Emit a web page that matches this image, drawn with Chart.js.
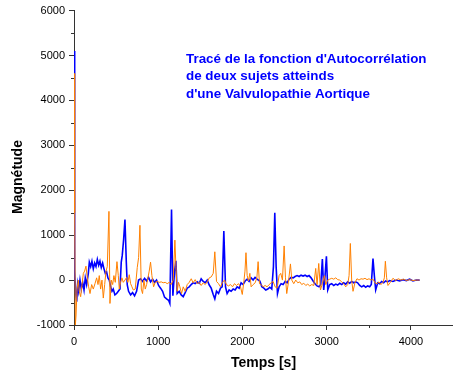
<!DOCTYPE html>
<html>
<head>
<meta charset="utf-8">
<script src="https://cdn.jsdelivr.net/npm/chart.js@4.4.1/dist/chart.umd.min.js"></script>
<style>
  html, body { margin: 0; padding: 0; background: #fff; }
  #wrap { width: 453px; height: 378px; }
</style>
</head>
<body>
<div id="wrap"><canvas id="acfChart" width="453" height="378"></canvas></div>
<script>
const titleLines = [
  "Tracé de la fonction d'Autocorrélation",
  "de deux sujets atteinds",
  "d'une Valvulopathie Aortique"
];

const xTicks = [0, 1000, 2000, 3000, 4000];
const yTicks = [-1000, 0, 1000, 2000, 3000, 4000, 5000, 6000];

// sujet 1 (bleu)
const blueTime = [
  0, 8, 20, 32, 43, 55, 71, 87, 103, 119, 134, 150, 170, 182, 198, 213, 229, 245, 261, 277,
  293, 308, 324, 340, 356, 372, 387, 403, 419, 435, 451, 466, 486, 506, 526, 546, 561, 573, 589, 605,
  621, 632, 648, 672, 696, 719, 743, 767, 791, 814, 838, 862, 885, 909, 933, 957, 980, 1004, 1028, 1052,
  1075, 1099, 1123, 1138, 1158, 1174, 1194, 1210, 1225, 1249, 1273, 1297, 1320, 1344, 1368, 1392, 1415, 1439, 1463, 1487,
  1510, 1534, 1558, 1582, 1606, 1629, 1653, 1672, 1692, 1716, 1739, 1759, 1779, 1799, 1818, 1842, 1866, 1890, 1913, 1937,
  1961, 1984, 2008, 2032, 2056, 2079, 2103, 2127, 2150, 2174, 2206, 2230, 2254, 2277, 2301, 2325, 2348, 2368, 2384, 2400,
  2416, 2435, 2459, 2483, 2507, 2530, 2554, 2578, 2602, 2625, 2649, 2673, 2696, 2720, 2744, 2768, 2791, 2815, 2839, 2862,
  2886, 2910, 2930, 2949, 2965, 2981, 2997, 3013, 3036, 3060, 3084, 3108, 3131, 3155, 3179, 3202, 3226, 3250, 3273, 3297,
  3321, 3345, 3368, 3392, 3416, 3440, 3463, 3487, 3511, 3530, 3550, 3566, 3582, 3606, 3629, 3653, 3677, 3700, 3724, 3748,
  3787, 3827, 3866, 3906, 3946, 3985, 4025, 4064, 4104
];
const blueValues = [
  5100, 200, -300, -480, -100, -250, 0, -200, -50, -220, 50, -100, 150, 400, 300, 420, 250, 380, 300, 460,
  330, 420, 280, 380, 250, 150, 180, 50, 0, -150, -250, -200, -330, -300, -250, -200, 400, 550, 900, 1350,
  400, -100, -250, -330, -280, -350, -250, 0, 30, -30, 40, -20, 60, -40, 20, -50, 0, -120, -180, -250,
  -380, -420, -450, -520, 1570, -350, 200, 430, -300, -250, -330, -370, -280, -180, -150, -100, -60, -80, -40, -70,
  30, -30, -60, 0, -110, -180, -320, -420, -250, -300, -180, -150, 1090, -150, -300, -220, -250, -200, -220, -150,
  -180, -60, -100, -20, 20, -30, 50, 0, 60, 20, -20, -150, -180, -220, -200, -160, -200, 300, 1500, 300,
  -300, -150, -80, -100, -30, -60, 20, 60, 50, 80, 100, 80, 110, 90, 110, 80, 100, 50, -20, -80,
  -130, -150, -100, 470, -220, 100, 530, -220, -100, -80, -120, -90, -110, -70, -100, -60, -90, -40, -70, -30,
  -60, -40, -60, -120, -150, -120, -160, -130, -150, -100, 480, 100, -220, -60, -80, -30, -60, -20, -40, -10,
  -30, 0, -20, 10, -10, 20, -20, 0, 0
];

// sujet 2 (orange)
const orangeTime = [
  0, 8, 16, 24, 36, 51, 63, 79, 95, 111, 126, 142, 158, 174, 190, 210, 229, 249, 269, 285,
  300, 316, 332, 348, 364, 380, 395, 415, 427, 443, 459, 474, 490, 510, 526, 538, 553, 569, 585, 605,
  625, 640, 656, 672, 688, 704, 727, 751, 767, 783, 799, 814, 830, 846, 862, 878, 893, 909, 925, 945,
  965, 988, 1012, 1036, 1059, 1083, 1107, 1131, 1154, 1178, 1198, 1210, 1225, 1241, 1257, 1277, 1297, 1320, 1344, 1368,
  1392, 1415, 1439, 1463, 1487, 1510, 1534, 1558, 1582, 1606, 1629, 1653, 1672, 1692, 1716, 1739, 1763, 1787, 1810, 1834,
  1858, 1882, 1905, 1929, 1953, 1977, 1998, 2016, 2030, 2042, 2056, 2072, 2088, 2103, 2127, 2151, 2171, 2186, 2202, 2222,
  2246, 2269, 2293, 2317, 2341, 2364, 2388, 2412, 2435, 2455, 2475, 2495, 2511, 2526, 2546, 2570, 2586, 2609, 2633, 2657,
  2681, 2704, 2728, 2752, 2775, 2799, 2823, 2847, 2870, 2886, 2906, 2926, 2949, 2973, 2989, 3013, 3036, 3060, 3084, 3108,
  3131, 3155, 3179, 3202, 3226, 3250, 3266, 3281, 3297, 3313, 3337, 3360, 3384, 3408, 3432, 3455, 3479, 3503, 3527, 3550,
  3574, 3598, 3621, 3645, 3669, 3685, 3697, 3712, 3728, 3756, 3787, 3819, 3851, 3882, 3914, 3946, 3985, 4025, 4064, 4104
];
const orangeValues = [
  4600, 1500, -1000, -800, -200, 0, -250, -370, -100, 150, 200, 310, 50, -150, -300, -100, -200, -80, 50, -100,
  100, -200, 0, -400, -100, 200, 300, 1530, -520, 0, -100, 100, -50, 410, 100, -200, -50, 50, -50, 0,
  60, -50, 120, -80, -150, -220, -200, 280, 500, 1220, -200, -300, 0, -200, -100, 50, 200, 400, 100, -150,
  -50, -30, -50, -40, -60, -50, -80, -50, -100, 0, 890, 300, -250, -50, -150, -300, -150, -250, -100, -50,
  30, -60, 10, -80, -50, -120, -60, -100, -40, 50, 70, 150, 630, -30, -80, -150, -50, 0, -100, -130,
  -100, -150, -80, -120, -80, -150, -320, -50, 200, 610, 100, -20, 150, -150, -100, -60, 50, 410, -80, -100,
  -150, -120, -150, -100, -60, -30, -150, -180, 100, 150, 0, 760, 50, -300, -50, 360, 0, -80, 0, -60,
  -40, -100, -70, -120, -90, -130, -100, -120, 260, -100, 370, -220, -80, 100, -100, 0, 20, 40, 20, 50,
  10, 0, -40, -80, -150, -100, 100, 815, 0, -250, -50, 30, 0, 30, 20, 40, 10, 30, 0, 20,
  -60, -80, -40, -100, -50, 50, 420, 50, -120, -50, 40, -10, 30, 0, 20, -10, 10, -10, 0, 0
];

const toPoints = (xs, ys) => xs.map((x, i) => ({ x: x, y: ys[i] }));

const FONT = "'Liberation Sans', Arial, sans-serif";

const decorPlugin = {
  id: "decor",
  afterDraw(chart) {
    const { ctx, scales } = chart;
    const x = scales.x;
    const y = scales.y;
    ctx.save();
    ctx.strokeStyle = "#333";
    ctx.lineWidth = 1;
    // minor ticks
    ctx.beginPath();
    for (let v = 500; v <= 4500; v += 1000) {
      const px = Math.round(x.getPixelForValue(v)) + 0.5;
      ctx.moveTo(px, y.bottom);
      ctx.lineTo(px, y.bottom + 3);
    }
    for (let v = -500; v <= 5500; v += 1000) {
      const py = Math.round(y.getPixelForValue(v)) + 0.5;
      ctx.moveTo(x.left, py);
      ctx.lineTo(x.left - 3, py);
    }
    ctx.stroke();

    // titre
    ctx.fillStyle = "#0000ff";
    ctx.font = "bold 13.4px " + FONT;
    ctx.textBaseline = "middle";
    ctx.textAlign = "left";
    titleLines.forEach((line, i) => {
      ctx.fillText(line, 186, 59 + i * 17.5);
    });

    // titre axe y
    ctx.fillStyle = "#000";
    ctx.font = "bold 14px " + FONT;
    ctx.translate(18, 177);
    ctx.rotate(-Math.PI / 2);
    ctx.textAlign = "center";
    ctx.fillText("Magnétude", 0, 0);
    ctx.restore();
  }
};

new Chart(document.getElementById("acfChart").getContext("2d"), {
  type: "line",
  plugins: [decorPlugin],
  data: {
    datasets: [
      {
        label: "Sujet 2",
        data: toPoints(orangeTime, orangeValues),
        borderColor: "#ff8000",
        borderWidth: 1,
        pointRadius: 0,
        tension: 0,
        fill: false
      },
      {
        label: "Sujet 1",
        data: toPoints(blueTime, blueValues),
        borderColor: "#0000ff",
        borderWidth: 1.6,
        pointRadius: 0,
        tension: 0,
        fill: false
      }
    ]
  },
  options: {
    responsive: false,
    animation: false,
    layout: {
      padding: { left: 0, right: 0, top: 10, bottom: 0 }
    },
    plugins: {
      legend: { display: false },
      tooltip: { enabled: false }
    },
    scales: {
      x: {
        type: "linear",
        min: 0,
        max: 4500,
        afterBuildTicks(scale) {
          scale.ticks = xTicks.map(v => ({ value: v }));
        },
        afterFit(scale) {
          scale.height = 53;
        },
        grid: {
          drawOnChartArea: false,
          drawTicks: true,
          tickLength: 5,
          color: "#333"
        },
        border: { display: true, color: "#333", width: 1 },
        ticks: {
          color: "#000",
          padding: 5,
          maxRotation: 0,
          callback: v => String(v),
          font: { family: FONT, size: 11 }
        },
        title: {
          display: true,
          text: "Temps [s]",
          color: "#000",
          padding: { top: 0, bottom: 6 },
          font: { family: FONT, size: 14, weight: "bold" }
        }
      },
      y: {
        type: "linear",
        min: -1000,
        max: 6000,
        afterBuildTicks(scale) {
          scale.ticks = yTicks.map(v => ({ value: v }));
        },
        afterFit(scale) {
          scale.width = 74;
        },
        grid: {
          drawOnChartArea: false,
          drawTicks: true,
          tickLength: 5,
          color: "#333"
        },
        border: { display: true, color: "#333", width: 1 },
        ticks: {
          color: "#000",
          padding: 4,
          callback: v => String(v),
          font: { family: FONT, size: 11 }
        }
      }
    }
  }
});
</script>
</body>
</html>
